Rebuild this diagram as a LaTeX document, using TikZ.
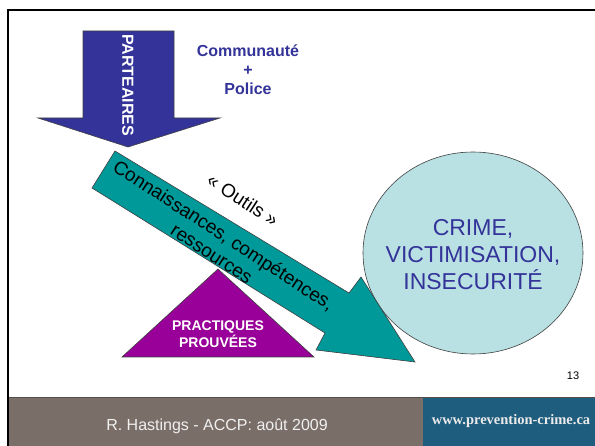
\documentclass[tikz,border=0pt]{standalone}
\usepackage{fontspec}
\setmainfont{Liberation Sans}
\newfontfamily\webfont{Liberation Serif}
\usepackage{xcolor}
\usetikzlibrary{calc, positioning}

\definecolor{partblue}{HTML}{333399}
\definecolor{tooltea}{HTML}{009999}
\definecolor{crimefill}{HTML}{B9E0E3}
\definecolor{pracpurple}{HTML}{990099}
\definecolor{footgrey}{HTML}{7A6E68}
\definecolor{footblue}{HTML}{1F5D7E}

\tikzset{
  shapeline/.style={draw=black!75, line width=0.6pt},
  boldlabel/.style={font=\fontsize{16}{19}\selectfont\bfseries, align=center},
  tooltext/.style={font=\fontsize{19}{22}\selectfont, align=center, rotate=-33},
  crimetext/.style={font=\fontsize{23}{27}\selectfont, align=center, text=partblue},
  footertext/.style={font=\fontsize{16}{19}\selectfont, text=white!94!black}
}

\begin{document}
\begin{tikzpicture}[x=1pt, y=-1pt]
\useasboundingbox (0,0) rectangle (595,446);

% footer band
\fill[footgrey] (8,397) rectangle (423,446);
\fill[footblue] (423,397) rectangle (595,446);
\draw[line width=1.5pt, footgrey!70!black] (8,397.5) -- (595,397.5);

% frame
\draw[line width=2.5pt] (8,446) -- (8,10) -- (595,10);

% target
\filldraw[fill=crimefill, shapeline] (473,253) ellipse [x radius=110, y radius=101];

% partners arrow
\filldraw[fill=partblue, shapeline] (83,31) -- (174,31) -- (174,118) -- (220,118)
  -- (128,147) -- (38,118) -- (83,118) -- cycle;

% practices
\filldraw[fill=pracpurple, shapeline] (218,269) -- (314,357) -- (122,357) -- cycle;

% tools arrow
\filldraw[fill=tooltea, shapeline] (115,151) -- (349,293) -- (361,277) -- (415,362)
  -- (316,350) -- (325,333) -- (92,188) -- cycle;

\node (parte) [boldlabel, text=white, rotate=-90] at (128,85) {PARTEAIRES};
\node (commun) [boldlabel, text=partblue] at (248,70) {Communauté\\+\\Police};
\node (outils) [tooltext] at (243,200) {« Outils »};
\node (connais) [tooltext] at (218,244) {Connaissances, compétences,\\ressources};
\node (prac) [font=\fontsize{14}{17}\selectfont\bfseries, align=center, text=white] at (218,334) {PRACTIQUES\\PROUVÉES};
\node (crime) [crimetext] at (473,255) {CRIME,\\VICTIMISATION,\\INSECURITÉ};

\node (page) [font=\fontsize{11}{13}\selectfont] at (573,376) {13};
\node (author) [footertext] at (217,426) {R. Hastings - ACCP: août 2009};
\node (site) [font=\fontsize{14.5}{17}\selectfont\webfont\bfseries, text=white!92!black] at (511,421) {www.prevention-crime.ca};
\end{tikzpicture}
\end{document}
